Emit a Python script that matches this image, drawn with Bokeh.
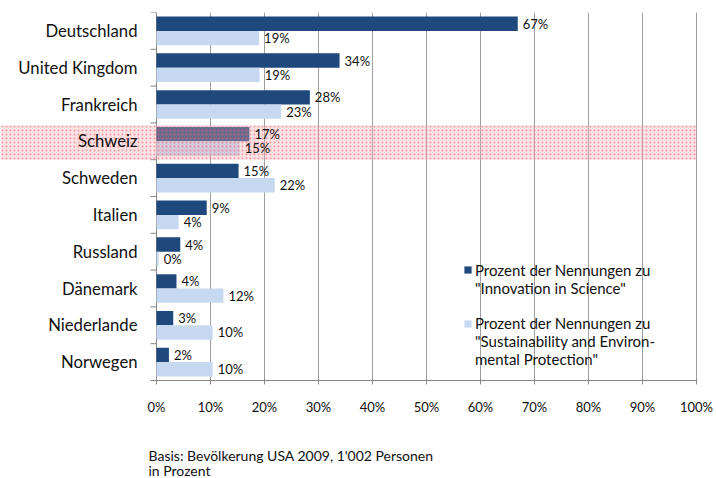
from bokeh.plotting import figure
from bokeh.models import (ColumnDataSource, Range1d, FixedTicker, Legend, LegendItem,
                          CustomJSTickFormatter)
from bokeh.core.properties import value
from bokeh.embed import file_html
from bokeh.resources import INLINE

countries = ["Deutschland", "United Kingdom", "Frankreich", "Schweiz", "Schweden",
             "Italien", "Russland", "Dänemark", "Niederlande", "Norwegen"]
innovation = [66.9, 33.9, 28.4, 17.2, 15.2, 9.3, 4.4, 3.7, 3.1, 2.3]
sustainability = [19.0, 19.1, 23.1, 15.4, 21.9, 4.1, 0.4, 12.4, 10.4, 10.4]
x_ticks = [0, 10, 20, 30, 40, 50, 60, 70, 80, 90, 100]
highlight = "Schweiz"
legend_lines_1 = ["Prozent der Nennungen zu", '"Innovation in Science"']
legend_lines_2 = ["Prozent der Nennungen zu", '"Sustainability and Environ-',
                  'mental Protection"']
footnote = "Basis: Bevölkerung USA  2009, 1'002 Personen\nin Prozent"

FONT = "Lato"
DARK = "#1f497d"
LIGHT = "#c6d9f1"
GRID = "#a0a0a0"
AXIS = "#868686"
TXT = "#111111"

W, H = 714, 478
TOP = 12
PX_PER_UNIT = 5.4      # px per percent
ROW_PX = 36.8          # px per country row
x_start = -156 / PX_PER_UNIT
x_end = x_start + W / PX_PER_UNIT

n = len(countries)
rows = list(range(n))
bar_h = 0.39
y_top = -0.5
y_bottom = y_top + (H - TOP) / ROW_PX
rows_end = n - 0.5

src = ColumnDataSource(dict(
    country=countries,
    y_dark=[r - bar_h / 2 for r in rows],
    y_light=[r + bar_h / 2 for r in rows],
    row=rows,
    inno=innovation,
    sust=sustainability,
    inno_lbl=[f"{v:.0f}%" for v in innovation],
    sust_lbl=[f"{v:.0f}%" for v in sustainability],
))

p = figure(width=W, height=H, output_backend="svg", toolbar_location=None,
           x_range=Range1d(x_start, x_end), y_range=Range1d(y_bottom, y_top),
           min_border_left=0, min_border_right=0, min_border_top=TOP, min_border_bottom=0,
           outline_line_color=None)
p.yaxis.visible = False
p.ygrid.visible = False
p.xgrid.visible = False

ax = p.xaxis[0]
ax.fixed_location = rows_end
ax.ticker = FixedTicker(ticks=x_ticks)
ax.bounds = (0, 100)
ax.formatter = CustomJSTickFormatter(code="return tick + '%';")
ax.axis_line_color = AXIS
ax.major_tick_line_color = AXIS
ax.minor_tick_line_color = None
ax.major_tick_in = 2
ax.major_tick_out = 4
ax.major_label_standoff = 14
ax.major_label_text_font = FONT
ax.major_label_text_font_size = "13px"
ax.major_label_text_color = TXT

# vertical gridlines over the rows only
p.segment(x0=x_ticks, y0=[y_top] * len(x_ticks), x1=x_ticks, y1=[rows_end] * len(x_ticks),
          line_color=GRID, line_width=1)

# left axis line and boundary ticks
p.segment(x0=[0], y0=[y_top], x1=[0], y1=[rows_end], line_color=AXIS, line_width=1)
bounds = [b - 0.5 for b in range(n + 1)]
p.segment(x0=[0] * len(bounds), y0=bounds, x1=[-6 / PX_PER_UNIT] * len(bounds), y1=bounds,
          line_color=AXIS, line_width=1)

r_dark = p.hbar(y="y_dark", left=0, right="inno", height=bar_h, source=src,
                fill_color=DARK, line_color=None)
r_light = p.hbar(y="y_light", left=0, right="sust", height=bar_h, source=src,
                 fill_color=LIGHT, line_color=None)
r_blank = p.scatter(x=[], y=[], fill_alpha=0, line_alpha=0)

hi = countries.index(highlight)
p.quad(left=[x_start], right=[100], top=[hi - 0.43], bottom=[hi + 0.5],
       fill_color="#f6aab2", fill_alpha=0.35, line_color=None,
       hatch_pattern="dot", hatch_color="#e8606c", hatch_alpha=0.55, hatch_scale=4,
       hatch_weight=1)

p.text(x="inno", y="y_dark", text="inno_lbl", source=src, x_offset=5,
       text_font=value(FONT), text_font_size="13px", text_baseline="middle",
       text_color=TXT)
p.text(x="sust", y="y_light", text="sust_lbl", source=src, x_offset=5,
       text_font=value(FONT), text_font_size="13px", text_baseline="middle",
       text_color=TXT)
p.text(x=0, y="row", text="country", source=src, x_offset=-19,
       text_font=value(FONT), text_font_size="16.7px", text_baseline="middle",
       text_align="right", text_color=TXT)

# footnote below the axis
p.text(x=[0], y=[rows_end], text=[footnote], x_offset=-8, y_offset=66,
       text_font=value(FONT), text_font_size="14px", text_baseline="top",
       text_align="left", text_line_height=0.9, text_color=TXT)


def make_legend(lines, rend, loc):
    items = [LegendItem(label=lines[0], renderers=[rend])]
    items += [LegendItem(label=t, renderers=[r_blank]) for t in lines[1:]]
    return Legend(items=items, location=loc, padding=0, margin=0, spacing=0,
                  glyph_width=9, glyph_height=9, label_standoff=3, label_height=18,
                  label_text_font=FONT, label_text_font_size="15px",
                  label_text_baseline="middle", label_text_color=TXT,
                  border_line_color=None, background_fill_alpha=0)


p.add_layout(make_legend(legend_lines_1, r_dark, (463, 181.5)))
p.add_layout(make_legend(legend_lines_2, r_light, (463, 110)))

open("out.html", "w").write(file_html(p, INLINE))
